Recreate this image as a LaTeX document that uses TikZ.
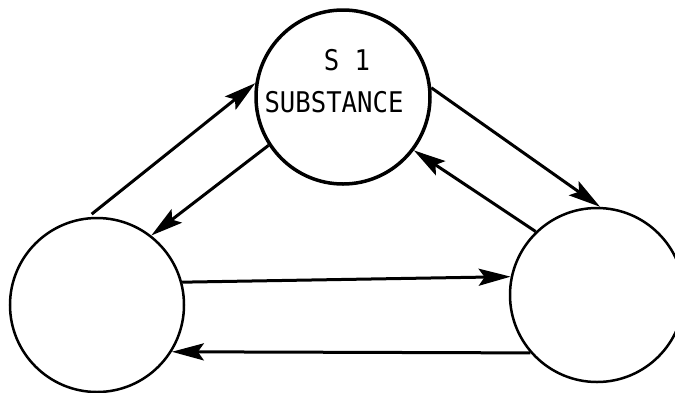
\documentclass[tikz,border=0pt]{standalone}
\usepackage{fontspec}
\newfontfamily\typefont{DejaVu Sans Mono}
\usetikzlibrary{arrows.meta}
\begin{document}
\begin{tikzpicture}[x=1pt,y=-1pt,
  state/.style={circle,draw,line width=2.5pt,minimum size=174pt,inner sep=0pt},
  label/.style={inner sep=0pt,font=\typefont\fontsize{28.5}{28.5}\selectfont},
  conn/.style={line width=3pt,-{Stealth[length=32pt,width=17pt,inset=6pt]}}]
\useasboundingbox (0,0) rectangle (675,392);
\clip (0,0) rectangle (675,392);
\node[state,line width=3.5pt] (top) at (343,97) {};
\node[state] (left) at (97,305) {};
\node[state] (right) at (597,295) {};
\node[label] (s1) at (347,60) {\scalebox{0.9}[1]{S 1}};
\node[label] (sub) at (334,102) {\scalebox{0.9}[1]{SUBSTANCE}};
\draw[conn,shorten <=5pt] (left.96) -- (top.171);
\draw[conn] (top.213) -- (left.52);
\draw[conn] (top.6) -- (right.88);
\draw[conn] (right.134) -- (top.323);
\draw[conn] (left.15) -- (right.168);
\draw[conn] (right.221) -- (left.328);
\end{tikzpicture}
\end{document}
